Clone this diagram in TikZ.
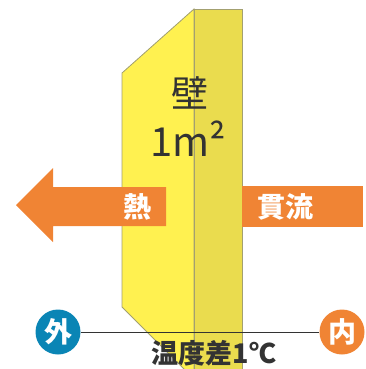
\documentclass[tikz,border=0pt]{standalone}
\usepackage{fontspec}
\setmainfont{Noto Sans CJK JP}
\usetikzlibrary{positioning}
\definecolor{wallfront}{HTML}{FFF150}
\definecolor{wallside}{HTML}{EADC4E}
\definecolor{wallline}{HTML}{A3A070}
\definecolor{heatorange}{HTML}{F08434}
\definecolor{outblue}{HTML}{0A85B5}
\definecolor{textgray}{HTML}{333333}

\begin{document}
\begin{tikzpicture}[x=1pt,y=-1pt]

      \tikzstyle{label}=[text=white,font=\bfseries\fontsize{28}{28}\selectfont,
        inner sep=0pt]
      \tikzstyle{side}=[circle,minimum size=45pt,inner sep=0pt,
        text=white,font=\bfseries\fontsize{28}{28}\selectfont]

      \useasboundingbox (0,0) rectangle (366,369);
      \clip (0,0) rectangle (366,369);

      % wall
      \draw [fill=wallfront,draw=wallline,line width=0.8pt]
      (194,9)--(122,73)--(122,307)--(190,375)--(194,375)--cycle;
      \draw [fill=wallside,draw=wallline,line width=0.8pt]
      (194,9) rectangle (242,375);

      \node(Wall)[inner sep=0pt,text=textgray,
        font=\fontsize{37}{37}\selectfont] at (190,93){壁};
      \node(Area)[inner sep=0pt,text=textgray,
        font=\fontsize{40}{40}\selectfont] at (188,139){1m²};

      % heat flow
      \fill [heatorange]
      (16,205)--(53,168)--(53,187)--(166,187)--(166,226)--(53,226)--(53,242)--cycle;
      \fill [heatorange] (242,186) rectangle (363,227);

      \node(Heat)[label] at (137,207){熱};
      \node(Flow)[label] at (285,207){貫流};

      % outside / inside
      \node(Outside)[side,fill=outblue] at (58,332){外};
      \node(Inside)[side,fill=heatorange] at (342,332){内};

      \draw [textgray,line width=0.9pt]
      (Outside)--(Inside);

      \node(Diff)[inner sep=0pt,text=textgray,
        font=\bfseries\fontsize{27}{27}\selectfont] at (214,353){温度差1℃};

    \end{tikzpicture}
\end{document}
